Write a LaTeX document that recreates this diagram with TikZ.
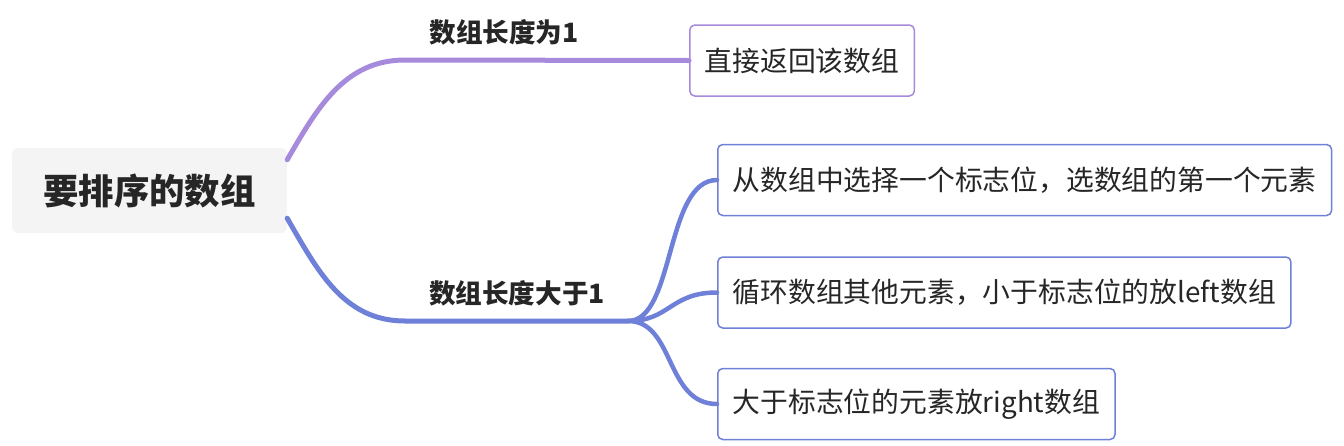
\documentclass[tikz,border=0pt]{standalone}
\usepackage{fontspec}
\setmainfont{Noto Sans CJK SC}
\definecolor{purp}{HTML}{A68ADB}
\definecolor{blu}{HTML}{6F80D8}
\definecolor{rootbg}{HTML}{F4F4F4}
\definecolor{txt}{HTML}{262626}
\begin{document}
\begin{tikzpicture}[x=1pt,y=-1pt,
  rootbox/.style={fill=rootbg, rounded corners=6pt, minimum width=275pt, minimum height=85pt, inner sep=0pt, font=\fontsize{35.4}{42}\selectfont\bfseries, text=txt},
  leafbox/.style={draw=#1, line width=1.5pt, rounded corners=5pt, fill=white, anchor=west, inner xsep=15pt, minimum height=71pt, font=\fontsize{27.8}{34}\selectfont, text=txt},
  lbl/.style={font=\fontsize{26.6}{32}\selectfont\bfseries, text=txt, inner sep=0pt},
  mainline/.style={draw=#1, line width=5pt, line cap=round},
  subline/.style={draw=blu, line width=4.5pt, line cap=round}]
\useasboundingbox (0,0) rectangle (1344,445);
\node[rootbox] (root) at (149.5,190.5) {要排序的数组};
\node[leafbox=purp] (b1) at (689,60.5) {直接返回该数组};
\node[leafbox=blu] (b2) at (717,180) {从数组中选择一个标志位，选数组的第一个元素};
\node[leafbox=blu] (b3) at (717,292.5) {循环数组其他元素，小于标志位的放left数组};
\node[leafbox=blu] (b4) at (717,404) {大于标志位的元素放right数组};
\node[lbl] (l1) at (504,32) {数组长度为1};
\node[lbl] (l2) at (517,293) {数组长度大于1};
\coordinate (j) at (628,321);
\coordinate (t1) at (405,60);
\coordinate (t2) at (405,321);
\begin{scope}[on background layer/.try]
\draw[mainline=purp] ([yshift=-12pt]root.north east) to[out=60,in=180] (t1) -- (b1.west);
\draw[mainline=blu] ([yshift=15pt]root.south east) to[out=-60,in=180] (t2) -- (j);
\draw[subline] (j) .. controls (675,321) and (665,180) .. (b2.west);
\draw[subline] (j) .. controls (670,321) and (670,292.5) .. (b3.west);
\draw[subline] (j) .. controls (675,321) and (665,404) .. (b4.west);
\end{scope}
\end{tikzpicture}
\end{document}
